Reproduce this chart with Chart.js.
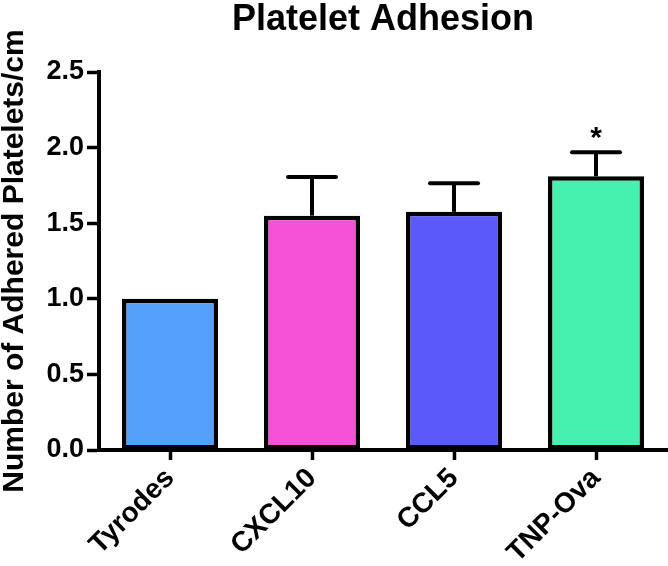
<!DOCTYPE html>
<html>
<head>
<meta charset="utf-8">
<script src="https://cdn.jsdelivr.net/npm/chart.js@4/dist/chart.umd.min.js"></script>
<style>
  html, body { margin: 0; padding: 0; background: #fff; }
  #wrap { width: 668px; height: 566px; position: relative; }
</style>
</head>
<body>
<div id="wrap"><canvas id="c" width="668" height="566"></canvas></div>
<script>
const chartTitle = 'Platelet Adhesion';
const yAxisTitle = 'Number of Adhered Platelets/cm';
const categories = ['Tyrodes', 'CXCL10', 'CCL5', 'TNP-Ova'];
const means = [1.0, 1.55, 1.575, 1.81];
const sems = [0, 0.255, 0.19, 0.16];
const significance = ['', '', '', '*'];
const barColors = ['#55A0FA', '#F652D8', '#5A5AFA', '#46F0AE'];
const yTicks = [0, 0.5, 1.0, 1.5, 2.0, 2.5];

const FONT = '"Liberation Sans", Arial, Helvetica, sans-serif';

const errorBarPlugin = {
  id: 'errorBars',
  afterDatasetsDraw(chart) {
    const ctx = chart.ctx;
    const xs = chart.scales.x, ys = chart.scales.y;
    ctx.save();
    ctx.strokeStyle = '#000';
    ctx.lineWidth = 4;
    ctx.lineCap = 'butt';
    means.forEach((m, i) => {
      const x = xs.getPixelForValue(i);
      const yTop = ys.getPixelForValue(m + sems[i]);
      const yBar = ys.getPixelForValue(m);
      if (sems[i] > 0) {
        ctx.beginPath();
        ctx.moveTo(x, yBar);
        ctx.lineTo(x, yTop);
        ctx.stroke();
        ctx.lineCap = 'round';
        ctx.beginPath();
        ctx.moveTo(x - 24, yTop);
        ctx.lineTo(x + 24, yTop);
        ctx.stroke();
        ctx.lineCap = 'butt';
      }
      if (significance[i]) {
        ctx.fillStyle = '#000';
        ctx.font = 'bold 30px ' + FONT;
        ctx.textAlign = 'center';
        ctx.textBaseline = 'middle';
        ctx.fillText(significance[i], x, yTop - 13);
      }
    });
    ctx.restore();
  }
};

const titlePlugin = {
  id: 'centerTitle',
  afterDraw(chart) {
    const ctx = chart.ctx;
    const a = chart.chartArea;
    ctx.save();
    ctx.fillStyle = '#000';
    ctx.font = 'bold 36px ' + FONT;
    ctx.textAlign = 'center';
    ctx.textBaseline = 'middle';
    ctx.fillText(chartTitle, (a.left + a.right) / 2, 20);
    ctx.restore();
  }
};

new Chart(document.getElementById('c'), {
  type: 'bar',
  data: {
    labels: categories,
    datasets: [{
      data: means,
      backgroundColor: barColors,
      borderColor: '#000',
      borderWidth: 4.5,
      borderSkipped: false,
      categoryPercentage: 1.0,
      barPercentage: 0.676
    }]
  },
  options: {
    responsive: false,
    animation: false,
    devicePixelRatio: 1,
    layout: { padding: { top: 72, right: 1, left: 0, bottom: 0 } },
    plugins: {
      legend: { display: false },
      title: { display: false },
      tooltip: { enabled: false }
    },
    scales: {
      x: {
        offset: true,
        afterFit(scale) { scale.height = 116; },
        border: { display: true, color: '#000', width: 4 },
        grid: { display: true, offset: false, drawOnChartArea: false, drawTicks: true, tickLength: 10, tickWidth: 3.5, tickColor: '#000' },
        ticks: {
          color: '#000',
          font: { family: FONT, size: 28, weight: 'bold' },
          minRotation: 45, maxRotation: 45,
          padding: 2
        }
      },
      y: {
        min: 0, max: 2.5,
        afterFit(scale) { scale.width = 99; },
        afterBuildTicks(scale) { scale.ticks = yTicks.map(v => ({ value: v })); },
        border: { display: true, color: '#000', width: 4 },
        grid: { display: true, drawOnChartArea: false, drawTicks: true, tickLength: 12, tickWidth: 3.5, tickColor: '#000' },
        ticks: {
          color: '#000',
          font: { family: FONT, size: 27, weight: 'bold' },
          padding: 3,
          callback: v => Number(v).toFixed(1)
        },
        title: {
          display: true,
          text: yAxisTitle,
          color: '#000',
          font: { family: FONT, size: 30, weight: 'bold', lineHeight: 1.0 },
          padding: { top: 0, bottom: 0 }
        }
      }
    }
  },
  plugins: [errorBarPlugin, titlePlugin]
});
</script>
</body>
</html>
